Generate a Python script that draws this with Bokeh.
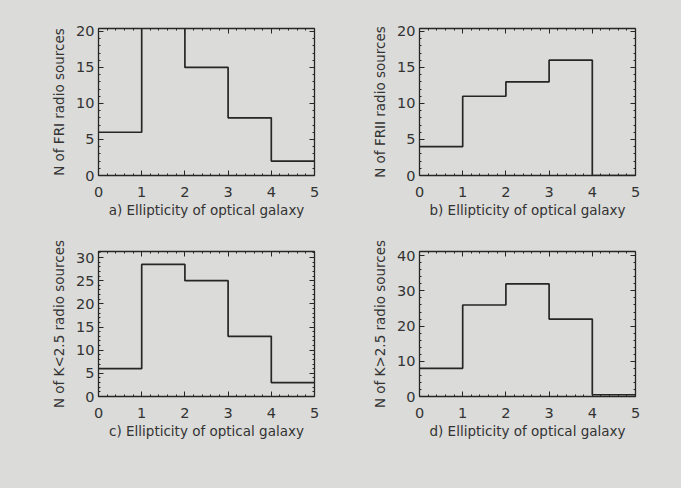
from bokeh.plotting import figure
from bokeh.layouts import gridplot
from bokeh.models import LinearAxis, Range1d, SingleIntervalTicker
from bokeh.embed import file_html
from bokeh.resources import INLINE

# bin edges of ellipticity
edges = [0, 1, 2, 3, 4, 5]

# counts per bin
fri_counts = [6, 21, 15, 8, 2]
frii_counts = [4, 11, 13, 16, 0]
klow_counts = [6, 28.5, 25, 13, 3]
khigh_counts = [8, 26, 32, 22, 0.5]

ylabels = ["N of FRI radio sources", "N of FRII radio sources",
           "N of K<2.5 radio sources", "N of K>2.5 radio sources"]
xlabels = ["a) Ellipticity of optical galaxy", "b) Ellipticity of optical galaxy",
           "c) Ellipticity of optical galaxy", "d) Ellipticity of optical galaxy"]
ymax = [20.4, 20.4, 31.3, 41.2]
yticks = [5, 5, 5, 10]

BG = "#dbdbd9"
INK = "#262626"
FONT = "DejaVu Sans"


def panel(counts, ylab, xlab, ytop, ystep, w, h, bl, bt, br, bb):
    p = figure(width=w, height=h, output_backend="svg", toolbar_location=None,
               x_range=Range1d(0, 5), y_range=Range1d(0, ytop),
               min_border_left=bl, min_border_top=bt, min_border_right=br,
               min_border_bottom=bb)
    p.background_fill_color = BG
    p.border_fill_color = BG
    p.outline_line_color = INK
    p.outline_line_width = 1.3
    p.grid.visible = False
    ys = list(counts) + [counts[-1]]
    p.step(edges, ys, mode="after", line_color=INK, line_width=1.7)

    p.xaxis.ticker = SingleIntervalTicker(interval=1, num_minor_ticks=5)
    p.yaxis.ticker = SingleIntervalTicker(interval=ystep, num_minor_ticks=5)
    for ax in (p.xaxis[0], p.yaxis[0]):
        ax.axis_line_color = INK
        ax.major_tick_in = 5
        ax.major_tick_out = 0
        ax.minor_tick_in = 2
        ax.minor_tick_out = 0
        ax.major_tick_line_color = INK
        ax.minor_tick_line_color = INK
        ax.major_label_text_font = FONT
        ax.major_label_text_font_size = "14.5px"
        ax.major_label_text_color = "#333333"
        ax.axis_label_text_font = FONT
        ax.axis_label_text_font_size = "13.5px"
        ax.axis_label_text_font_style = "normal"
        ax.axis_label_text_color = "#333333"
    p.xaxis.axis_label = xlab
    p.yaxis.axis_label = ylab
    p.xaxis.major_label_standoff = 11
    p.yaxis.major_label_standoff = 4
    p.xaxis.axis_label_standoff = 2
    p.yaxis.axis_label_standoff = 6

    for loc, tick in (("right", SingleIntervalTicker(interval=ystep, num_minor_ticks=5)),
                      ("above", SingleIntervalTicker(interval=1, num_minor_ticks=5))):
        ax = LinearAxis(ticker=tick, major_label_text_font_size="1px",
                        major_label_text_color=None,
                        major_label_standoff=0, axis_label_standoff=0,
                        axis_line_color=INK,
                        major_tick_in=5, major_tick_out=0,
                        minor_tick_in=2, minor_tick_out=0,
                        major_tick_line_color=INK, minor_tick_line_color=INK)
        p.add_layout(ax, loc)
    return p


pa = panel(fri_counts, ylabels[0], xlabels[0], ymax[0], yticks[0],
           340, 234, 97, 28, 26, 58)
pb = panel(frii_counts, ylabels[1], xlabels[1], ymax[1], yticks[1],
           341, 234, 79, 28, 46, 59)
pc = panel(klow_counts, ylabels[2], xlabels[2], ymax[2], yticks[2],
           340, 254, 98, 17, 26, 91)
pd = panel(khigh_counts, ylabels[3], xlabels[3], ymax[3], yticks[3],
           341, 254, 79, 15, 45, 92)

grid = gridplot([[pa, pb], [pc, pd]], toolbar_location=None)
grid.styles = {"background-color": BG}

open("out.html", "w").write(file_html(grid, INLINE))
